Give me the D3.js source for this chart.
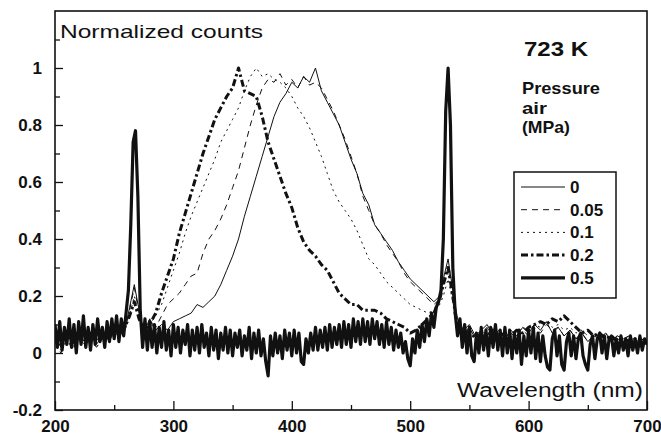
<!DOCTYPE html>
<html>
<head>
<meta charset="utf-8">
<script src="https://cdn.jsdelivr.net/npm/d3@7"></script>
<style>
  body { margin: 0; background: #fff; }
  svg { display: block; font-family: "Liberation Sans", Arial, sans-serif; }
  .tick line { stroke: #111; stroke-width: 1.3; }
</style>
</head>
<body>
<svg id="chart" width="661" height="437"></svg>
<script>
// x ticks / y ticks
const xTicks = [200, 300, 400, 500, 600, 700];
const xTickLabels = ["200", "300", "400", "500", "600", "700"];
const xMinor = [250, 350, 450, 550, 650];
const yTicks = [-0.2, 0, 0.2, 0.4, 0.6, 0.8, 1];
const yTickLabels = ["-0.2", "0", "0.2", "0.4", "0.6", "0.8", "1"];
const yMinor = [-0.1, 0.1, 0.3, 0.5, 0.7, 0.9, 1.1];

// pressure (MPa) series names
const pressures = ["0", "0.05", "0.1", "0.2", "0.5"];

// wavelength grid shared by the four broad-band spectra
const wlThin = [200,205,210,215,220,225,230,235,240,245,250,255,260,
  263,267,271,
  275,280,285,290,295,300,305,310,315,320,325,330,335,340,345,350,355,360,365,370,
  375,380,385,390,395,400,405,410,415,420,425,430,435,440,445,450,455,460,465,470,
  475,480,485,490,495,500,505,510,515,520,525,
  528,532,536,
  540,545,550,555,560,565,570,575,580,585,590,595,600,605,610,615,620,625,630,635,
  640,645,650,655,660,665,670,675,680,685,690,695,700];

const v0 = [0.06,0.02,0.07,0.03,0.06,0.04,0.07,0.03,0.06,0.05,0.08,0.06,0.10,
  0.16,0.24,0.15,
  0.07,0.12,0.08,0.10,0.08,0.11,0.12,0.13,0.14,0.17,0.16,0.18,0.20,0.24,0.29,0.34,0.40,0.48,0.55,0.62,
  0.69,0.76,0.83,0.88,0.91,0.95,0.93,0.97,0.95,1.00,0.92,0.88,0.84,0.80,0.74,0.68,0.63,0.56,0.52,0.45,
  0.42,0.39,0.36,0.32,0.29,0.26,0.24,0.22,0.20,0.18,0.20,
  0.26,0.33,0.22,
  0.12,0.08,0.10,0.06,0.08,0.10,0.06,0.08,0.05,0.08,0.06,0.09,0.07,0.10,0.08,0.11,0.07,0.09,0.06,0.08,
  0.05,0.07,0.04,0.06,0.05,0.07,0.04,0.06,0.05,0.06,0.03,0.05,0.04];

const v005 = [0.04,0.00,0.05,0.01,0.05,0.03,0.05,0.02,0.05,0.04,0.07,0.06,0.09,
  0.15,0.23,0.14,
  0.08,0.10,0.09,0.13,0.17,0.19,0.21,0.24,0.27,0.28,0.35,0.40,0.43,0.47,0.52,0.58,0.64,0.72,0.80,0.87,
  0.93,0.96,0.95,0.98,0.94,0.96,0.93,0.97,0.94,0.95,0.93,0.89,0.85,0.80,0.75,0.69,0.63,0.55,0.50,0.45,
  0.42,0.38,0.35,0.32,0.28,0.25,0.23,0.21,0.19,0.17,0.19,
  0.24,0.30,0.20,
  0.10,0.07,0.09,0.05,0.07,0.09,0.05,0.07,0.04,0.07,0.05,0.08,0.06,0.09,0.07,0.10,0.08,0.09,0.06,0.08,
  0.05,0.07,0.04,0.06,0.05,0.06,0.04,0.05,0.04,0.05,0.03,0.04,0.03];

const v01 = [0.05,0.01,0.06,0.02,0.05,0.03,0.06,0.02,0.05,0.04,0.06,0.07,0.09,
  0.13,0.20,0.13,
  0.08,0.10,0.13,0.17,0.23,0.29,0.35,0.42,0.48,0.53,0.58,0.63,0.68,0.74,0.78,0.82,0.86,0.92,0.97,1.00,
  0.97,0.98,0.96,0.95,0.93,0.90,0.86,0.83,0.79,0.74,0.69,0.63,0.57,0.53,0.50,0.47,0.43,0.38,0.33,0.31,
  0.28,0.25,0.23,0.21,0.19,0.17,0.16,0.15,0.14,0.15,0.17,
  0.20,0.26,0.18,
  0.09,0.06,0.08,0.05,0.08,0.06,0.09,0.07,0.06,0.08,0.07,0.09,0.08,0.10,0.09,0.11,0.09,0.10,0.08,0.09,
  0.07,0.08,0.06,0.07,0.06,0.07,0.05,0.06,0.05,0.06,0.04,0.05,0.04];

const v02 = [0.06,0.03,0.07,0.04,0.08,0.05,0.07,0.04,0.06,0.05,0.08,0.07,0.10,
  0.13,0.18,0.12,
  0.08,0.10,0.14,0.21,0.27,0.33,0.42,0.49,0.56,0.63,0.70,0.76,0.82,0.86,0.90,0.93,1.00,0.92,0.91,0.90,
  0.83,0.74,0.68,0.62,0.56,0.51,0.44,0.39,0.36,0.34,0.31,0.29,0.25,0.21,0.19,0.17,0.17,0.15,0.15,0.15,
  0.14,0.12,0.11,0.10,0.09,0.07,0.08,0.10,0.12,0.14,0.19,
  0.24,0.30,0.20,
  0.08,0.06,0.08,0.05,0.07,0.06,0.08,0.06,0.07,0.06,0.08,0.07,0.09,0.10,0.11,0.10,0.12,0.11,0.13,0.11,
  0.09,0.07,0.08,0.06,0.07,0.05,0.06,0.04,0.05,0.04,0.05,0.03,0.04];

// 0.5 MPa: noisy baseline with the two sharp lines (2 nm sampling)
const wlThick = [
  200,202,204,206,208,210,212,214,216,218,220,222,224,226,228,230,232,234,236,238,
  240,242,244,246,248,250,252,254,256,258,
  260,262,264,266,268,270,272,274,276,
  278,280,282,284,286,288,290,292,294,296,298,300,302,304,306,308,310,312,314,316,
  318,320,322,324,326,328,330,332,334,336,338,340,342,344,346,348,350,352,354,356,
  358,360,362,364,366,368,370,372,374,376,378,
  380,382,384,386,388,390,392,394,396,398,400,402,404,406,408,410,412,414,416,418,
  420,422,424,426,428,430,432,434,436,438,440,442,444,446,448,450,452,454,456,458,
  460,462,464,466,468,470,472,474,476,478,480,482,484,486,488,490,492,494,496,498,
  500,502,504,506,508,510,512,514,516,518,520,522,524,
  526,528,530,532,534,536,538,540,
  542,544,546,548,550,552,554,556,558,560,562,564,566,568,570,572,574,576,578,580,
  582,584,586,588,590,592,594,596,598,600,602,604,606,608,610,612,614,616,618,620,
  622,624,626,628,630,632,634,636,638,640,642,644,646,648,650,652,654,656,658,660,
  662,664,666,668,670,672,674,676,678,680,682,684,686,688,690,692,694,696,698,700];
const vThick = [
  0.10,0.02,0.11,0.01,0.09,0.03,0.12,0.02,0.10,0.00,0.11,0.03,0.13,0.02,0.09,0.01,0.10,0.03,0.12,0.04,
  0.09,0.02,0.11,0.04,0.12,0.05,0.13,0.04,0.12,0.06,
  0.14,0.22,0.45,0.74,0.78,0.55,0.15,0.02,0.12,
  0.01,0.11,0.02,0.10,0.00,0.09,0.02,0.11,0.01,0.08,-0.01,0.10,0.02,0.09,0.00,0.08,0.03,0.10,-0.01,0.08,
  0.01,0.09,0.00,0.10,0.02,0.07,-0.01,0.09,0.01,0.08,-0.02,0.07,0.01,0.09,0.00,0.08,-0.01,0.07,0.02,0.08,
  -0.01,0.06,0.01,0.09,-0.02,0.07,0.00,0.08,-0.01,0.05,-0.03,
  -0.08,0.06,-0.01,0.07,0.00,0.06,-0.02,0.08,0.01,0.07,-0.01,0.08,0.00,0.07,-0.03,-0.04,0.05,0.00,0.07,0.01,
  0.09,0.01,0.08,0.02,0.09,0.01,0.10,0.02,0.09,0.03,0.10,0.02,0.11,0.03,0.10,0.02,0.12,0.04,0.11,0.03,
  0.12,0.04,0.11,0.03,0.12,0.05,0.11,0.03,0.10,0.02,0.11,0.03,0.09,0.01,0.08,0.02,0.07,0.00,0.04,-0.02,
  -0.045,0.05,0.00,0.08,0.02,0.10,0.04,0.12,0.06,0.14,0.09,0.16,0.18,
  0.22,0.40,0.85,1.00,0.80,0.30,0.14,0.06,
  0.12,0.02,0.10,0.00,0.09,-0.01,-0.03,0.07,0.00,0.09,0.01,0.08,-0.01,0.09,0.02,0.10,0.01,0.08,-0.01,0.09,
  0.00,0.08,-0.02,0.07,0.00,0.08,-0.04,0.06,-0.01,0.08,0.00,0.09,-0.02,0.07,-0.03,0.06,-0.01,-0.05,-0.06,0.05,
  0.08,-0.01,0.06,-0.04,-0.06,0.04,0.07,-0.01,0.06,-0.02,0.05,0.07,-0.01,-0.04,-0.06,0.03,0.06,-0.02,0.05,0.07,
  0.00,0.06,-0.02,0.05,0.06,-0.01,0.05,0.00,0.06,0.01,0.05,-0.01,0.06,0.01,0.05,0.00,0.06,0.01,0.05,0.03];

const series = [
  { name: pressures[0], x: wlThin, y: v0,   width: 1,   dash: null },
  { name: pressures[1], x: wlThin, y: v005, width: 1,   dash: "6,5" },
  { name: pressures[2], x: wlThin, y: v01,  width: 1,   dash: "2,4" },
  { name: pressures[3], x: wlThin, y: v02,  width: 3,   dash: "7,3,2.5,3" },
  { name: pressures[4], x: wlThick, y: vThick, width: 3.2, dash: null }
];

const svg = d3.select("#chart");
const plotLeft = 55, plotRight = 647, plotTop = 11, plotBottom = 410;

const xScale = d3.scaleLinear().domain([200, 700]).range([plotLeft, plotRight]);
const yScale = d3.scaleLinear().domain([-0.2, 1.2]).range([plotBottom, plotTop]);

function styleAxis(g) {
  g.select(".domain").remove();
  g.attr("font-size", 17)
   .attr("font-family", "'Liberation Sans', Arial, sans-serif")
   .attr("font-weight", "bold");
  g.selectAll("text").attr("fill", "#111");
}

// minor ticks
svg.append("g").attr("transform", `translate(0,${plotBottom})`)
  .call(d3.axisBottom(xScale).tickValues(xMinor).tickSizeInner(-5).tickSizeOuter(0).tickFormat(""))
  .call(styleAxis);
svg.append("g").attr("transform", `translate(${plotLeft},0)`)
  .call(d3.axisLeft(yScale).tickValues(yMinor).tickSizeInner(-5).tickSizeOuter(0).tickFormat(""))
  .call(styleAxis);

// major ticks
svg.append("g").attr("transform", `translate(0,${plotBottom})`)
  .call(d3.axisBottom(xScale).tickValues(xTicks).tickSizeInner(-9).tickSizeOuter(0).tickPadding(10)
    .tickFormat((d, i) => xTickLabels[i]))
  .call(styleAxis);
svg.append("g").attr("transform", `translate(${plotLeft},0)`)
  .call(d3.axisLeft(yScale).tickValues(yTicks).tickSizeInner(-8).tickSizeOuter(0).tickPadding(13)
    .tickFormat((d, i) => yTickLabels[i]))
  .call(styleAxis);

// frame
svg.append("rect")
  .attr("x", plotLeft).attr("y", plotTop)
  .attr("width", plotRight - plotLeft).attr("height", plotBottom - plotTop)
  .attr("fill", "none").attr("stroke", "#111").attr("stroke-width", 1.6);

svg.append("clipPath").attr("id", "clip")
  .append("rect").attr("x", plotLeft).attr("y", plotTop)
  .attr("width", plotRight - plotLeft).attr("height", plotBottom - plotTop);

const line = d3.line().x(d => xScale(d[0])).y(d => yScale(d[1]));

svg.append("g").attr("clip-path", "url(#clip)")
  .selectAll("path")
  .data(series)
  .enter()
  .append("path")
  .attr("d", s => line(s.x.map((w, i) => [w, s.y[i]])))
  .attr("fill", "none")
  .attr("stroke", "#111")
  .attr("stroke-width", s => s.width)
  .attr("stroke-dasharray", s => s.dash)
  .attr("stroke-linejoin", "round");

// texts
svg.append("text")
  .attr("x", 60).attr("y", 38)
  .attr("font-size", "19px").attr("textLength", 203).attr("lengthAdjust", "spacingAndGlyphs")
  .attr("fill", "#111")
  .text("Normalized counts");

svg.append("text")
  .attr("x", 457).attr("y", 397)
  .attr("font-size", "20px").attr("textLength", 186).attr("lengthAdjust", "spacingAndGlyphs")
  .attr("fill", "#111")
  .text("Wavelength (nm)");

svg.append("text")
  .attr("x", 524).attr("y", 56)
  .attr("font-size", "21px").attr("font-weight", "bold")
  .attr("textLength", 64).attr("lengthAdjust", "spacingAndGlyphs")
  .attr("fill", "#111")
  .text("723 K");

const legendTitle = ["Pressure", "air", "(MPa)"];
const titleWidths = [78, 25, 48];
legendTitle.forEach((t, i) => {
  svg.append("text")
    .attr("x", 522).attr("y", 94 + i * 19.5)
    .attr("font-size", "17px").attr("font-weight", "bold")
    .attr("textLength", titleWidths[i]).attr("lengthAdjust", "spacingAndGlyphs")
    .attr("fill", "#111")
    .text(t);
});

// legend
const legend = svg.append("g").attr("transform", "translate(514,172)");
legend.append("rect")
  .attr("width", 102).attr("height", 126)
  .attr("fill", "#fff").attr("stroke", "#111").attr("stroke-width", 1.5);

series.forEach((s, i) => {
  const row = legend.append("g").attr("transform", `translate(0, ${15 + i * 22.7})`);
  row.append("line")
    .attr("x1", 7).attr("x2", 51).attr("y1", 0).attr("y2", 0)
    .attr("stroke", "#111")
    .attr("stroke-width", s.width)
    .attr("stroke-dasharray", s.dash);
  row.append("text")
    .attr("x", 56).attr("y", 6)
    .attr("font-size", "17px").attr("font-weight", "bold")
    .attr("fill", "#111")
    .text(s.name);
});
</script>
</body>
</html>
